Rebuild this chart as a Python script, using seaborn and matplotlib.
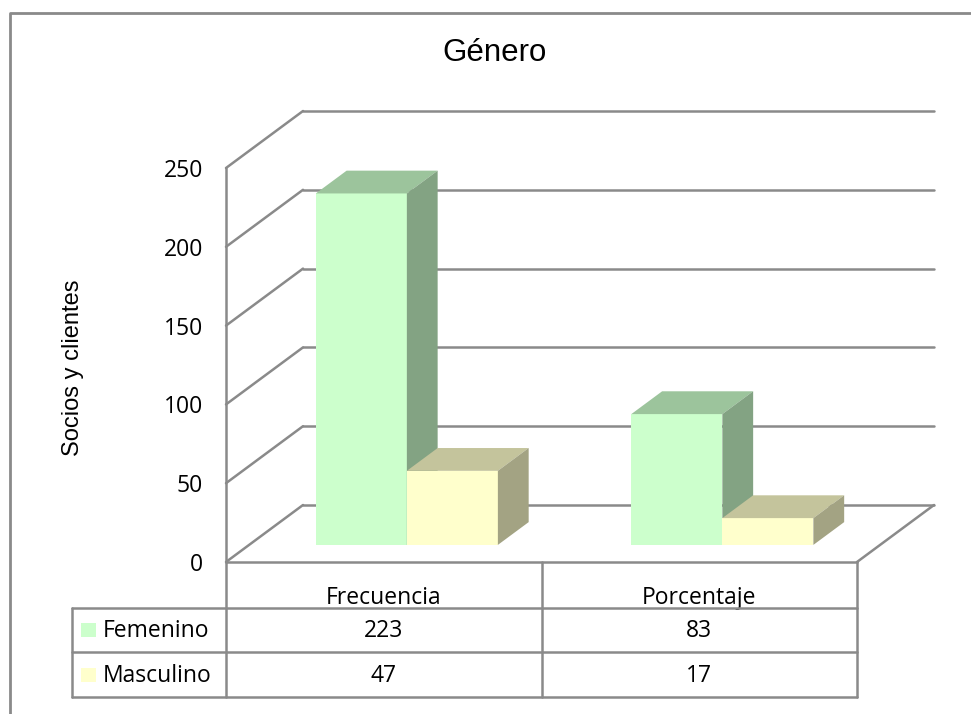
import numpy as np
import pandas as pd
import matplotlib
matplotlib.use("Agg")
import matplotlib.pyplot as plt
import matplotlib.transforms as mtransforms
from matplotlib.patches import Polygon, Rectangle
from matplotlib.lines import Line2D
import seaborn as sns

# ---------------- data ----------------
categories = ["Frecuencia", "Porcentaje"]
series = ["Femenino", "Masculino"]
femenino = [223, 83]
masculino = [47, 17]
yticks = [0, 50, 100, 150, 200, 250]
title = "Género"
ylabel = "Socios y clientes"

# ---------------- style ----------------
sns.set_theme(style="white")
plt.rcParams["font.family"] = ["Open Sans", "DejaVu Sans"]
plt.rcParams["text.color"] = "black"

W, H = 971, 714
fig = plt.figure(figsize=(W / 100, H / 100), dpi=100)


def fx(px):
    return px / W


def fy(py):
    return 1 - py / H


GRID = "#8A8A8A"
LW = 1.8
FS = 16.5
DEPTH = np.array([77.0, 57.0])   # wall depth in display pixels
D0, D1 = 0.3, 0.7                # bar position within depth
front = {"Femenino": "#CCFFCC", "Masculino": "#FFFFCC"}
top = {"Femenino": "#9CC49C", "Masculino": "#C4C49C"}
side = {"Femenino": "#83A383", "Masculino": "#A3A383"}

ax = fig.add_axes([fx(226), fy(562), fx(857) - fx(226), fy(168) - fy(562)])

df = pd.DataFrame({
    "Categoría": categories * 2,
    "Género": [series[0]] * len(categories) + [series[1]] * len(categories),
    "Valor": femenino + masculino,
})

sns.barplot(data=df, x="Categoría", y="Valor", hue="Género", order=categories,
            hue_order=series, palette=front, width=0.577, saturation=1,
            errorbar=None, legend=False, linewidth=0, ax=ax)

ax.set_xlim(-0.5, len(categories) - 0.5)
ax.set_ylim(yticks[0], yticks[-1])
ax.set_facecolor("none")
for s in ax.spines.values():
    s.set_visible(False)
ax.grid(False)
ax.set_xlabel("")
ax.set_ylabel("")
ax.set_xticks([])
ax.set_yticks(yticks)
ax.tick_params(axis="y", length=0, pad=16.5, labelsize=FS, labelcolor="black")


def P(x, y, d):
    disp = ax.transData.transform((x, y)) + d * DEPTH
    return ax.transData.inverted().transform(disp)


x_lo, x_hi = ax.get_xlim()

# walls / gridlines
for t in yticks:
    a, b = P(x_lo, t, 1), P(x_hi, t, 1)
    ax.plot([a[0], b[0]], [a[1], b[1]], color=GRID, lw=LW, clip_on=False, zorder=1)
    a, b = P(x_lo, t, 0), P(x_lo, t, 1)
    ax.plot([a[0], b[0]], [a[1], b[1]], color=GRID, lw=LW, clip_on=False, zorder=1)
ax.plot([x_lo, x_lo], [yticks[0], yticks[-1]], color=GRID, lw=LW, clip_on=False, zorder=1)
ax.plot([x_lo, x_hi], [0, 0], color=GRID, lw=LW, clip_on=False, zorder=1)
a, b = P(x_hi, 0, 0), P(x_hi, 0, 1)
ax.plot([a[0], b[0]], [a[1], b[1]], color=GRID, lw=LW, clip_on=False, zorder=1)

# 3D bars
shift = mtransforms.ScaledTranslation(D0 * DEPTH[0] / 100, D0 * DEPTH[1] / 100,
                                      fig.dpi_scale_trans)
for k, (cont, name) in enumerate(zip(ax.containers, series)):
    z = 3 + k
    for bar in cont:
        x0, w, h = bar.get_x(), bar.get_width(), bar.get_height()
        x1 = x0 + w
        bar.set_transform(ax.transData + shift)
        bar.set_clip_on(False)
        bar.set_zorder(z)
        bar.set_facecolor(front[name])
        ax.add_patch(Polygon([P(x0, h, D0), P(x1, h, D0), P(x1, h, D1), P(x0, h, D1)],
                             closed=True, facecolor=top[name], edgecolor="none",
                             clip_on=False, zorder=z))
        ax.add_patch(Polygon([P(x1, 0, D0), P(x1, h, D0), P(x1, h, D1), P(x1, 0, D1)],
                             closed=True, facecolor=side[name], edgecolor="none",
                             clip_on=False, zorder=z))

# ---------------- data table ----------------
edges = np.arange(len(categories) + 1) - 0.5
col_px = [ax.transData.transform((e, 0))[0] for e in edges]
left_px = 72
row_px = [608, 652, 697]
header_top = 562


def fline(xs, ys):
    fig.add_artist(Line2D([fx(v) for v in xs], [fy(v) for v in ys],
                          transform=fig.transFigure, color=GRID, lw=LW))


for c in col_px:
    fline([c, c], [header_top, row_px[-1]])
fline([left_px, left_px], [row_px[0], row_px[-1]])
for r in row_px:
    fline([left_px, col_px[-1]], [r, r])

blend = mtransforms.blended_transform_factory(ax.transData, fig.transFigure)
for i, cat in enumerate(categories):
    ax.text(i, fy(604), cat, transform=blend, ha="center", va="baseline",
            fontsize=FS, color="black", clip_on=False)

table_vals = [femenino, masculino]
for r, (name, vals) in enumerate(zip(series, table_vals)):
    yc = (row_px[r] + row_px[r + 1]) / 2
    for i, v in enumerate(vals):
        ax.text(i, fy(yc + 1), str(v), transform=blend, ha="center", va="center",
                fontsize=FS, color="black", clip_on=False)
    fig.add_artist(Rectangle((fx(81), fy(yc + 7)), fx(15), 14 / H,
                             transform=fig.transFigure, facecolor=front[name],
                             edgecolor="none"))
    fig.text(fx(103), fy(yc + 1), name, ha="left", va="center", fontsize=FS,
             color="black")

# ---------------- titles and frame ----------------
fig.text(fx(495), fy(53), title, ha="center", va="center", fontsize=22.5,
         color="black", family=["Liberation Sans", "DejaVu Sans"])
fig.text(fx(73), fy(368), ylabel, ha="center", va="center", rotation=90,
         fontsize=17, color="black", family=["Liberation Sans", "DejaVu Sans"])

fig.add_artist(Line2D([fx(10), fx(10), fx(W)], [fy(H), fy(13), fy(13)],
                      transform=fig.transFigure, color="#8A8A8A", lw=2))

fig.savefig("out.png", dpi=100)
